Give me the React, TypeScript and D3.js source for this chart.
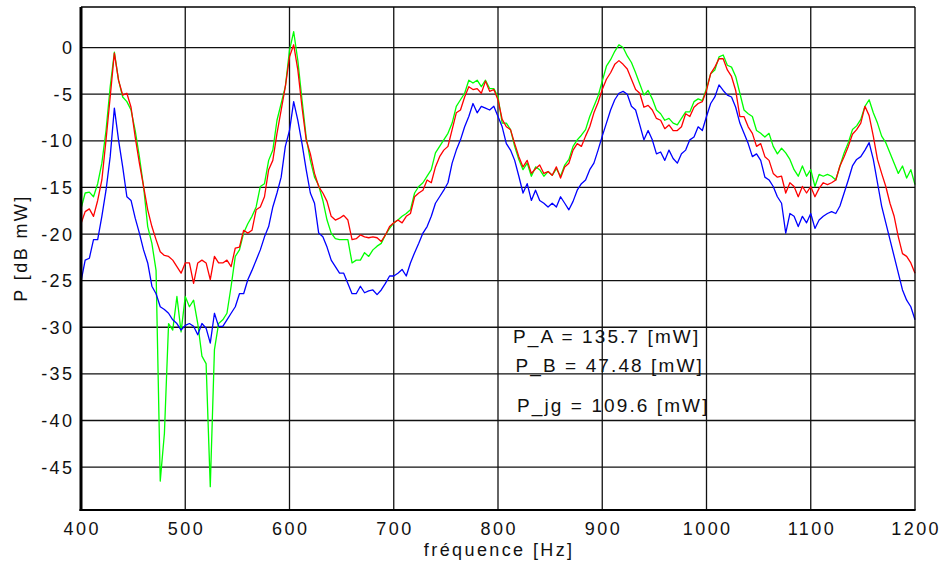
import React from "react";
import * as d3 from "d3";

// frequency axis: 400..1200 Hz, step 4 Hz
const FREQ_START = 400;
const FREQ_STEP = 4;

const redValues: number[] = [
  -18.9, -17.6, -17.3, -18.1, -16.4, -14.2, -9.9, -5.3, -0.6,
  -3.5, -5.1, -4.9, -6.4, -9.6, -12.4, -14.9, -17.4, -19.2, -20.6,
  -21.9, -22.3, -22.4, -22.8, -23.5, -24.2, -23.1, -23.1, -25.3, -23.1, -22.8, -23.1, -24.9, -22.4, -23.1,
  -23.1, -22.8, -23.5, -21.5, -21.4, -19.6, -19.9, -19.6, -17.4, -17.1, -16.0, -13.1, -12.1, -9.2, -6.7, -4.2, -1.0, 0.3, -2.4, -6.4, -9.9, -11.4, -13.5, -14.9, -15.6, -16.5, -18.1, -18.5, -18.3, -18.0, -18.5, -20.6, -20.5,
  -20.1, -20.3, -20.4, -20.3, -20.4, -20.8, -20.1, -19.2, -18.8, -18.5, -18.8, -18.1, -17.8, -16.0, -15.6, -15.3, -14.2, -14.5, -12.8, -11.7, -11.0, -10.6, -8.8, -7.0, -6.7, -5.3, -4.2, -4.5, -4.4, -4.9, -3.6, -4.7, -4.5, -5.6,
  -7.7, -8.5, -8.8, -10.3, -11.7, -12.8, -12.1, -13.5, -13.0, -12.6, -13.5, -13.3, -13.7, -12.8, -14.0, -12.8, -12.4, -11.0, -10.3, -10.6, -9.5, -8.5, -7.0, -5.9, -4.5, -3.4, -2.7, -1.8, -1.4, -1.8, -2.3, -3.4, -4.5,
  -4.9, -6.4, -6.2, -6.7, -7.6, -7.8, -8.7, -8.3, -8.9, -8.9, -8.5, -7.1, -7.4, -6.4, -6.0, -5.8, -4.6, -2.8, -2.1, -1.2, -1.2, -2.4, -3.1, -4.6, -7.4, -7.4, -8.5, -9.2, -10.6, -10.3, -11.7, -12.1, -13.5, -13.9,
  -13.8, -15.6, -14.5, -14.9, -16.0, -14.9, -15.6, -14.9, -16.0, -15.1, -14.5, -14.7, -14.5, -14.2, -12.7, -11.7, -10.6, -9.3, -8.8, -8.1, -6.3, -7.3, -9.5, -12.0, -13.5, -14.9, -16.7, -18.1, -20.3, -22.1, -22.4, -23.1, -24.2,
];

const greenValues: number[] = [
  -17.3, -15.6, -15.5, -16.0, -14.6, -12.4, -8.9, -4.2, -0.5,
  -3.5, -5.3, -5.8, -6.7, -8.9, -11.7, -14.9, -19.2, -21.0, -23.9,
  -46.5, -41.4, -29.6, -30.3, -26.7, -30.5, -26.7, -27.8, -27.1, -29.6, -33.1, -33.9, -47.1, -32.4, -29.6,
  -29.2, -28.5, -25.6, -22.4, -21.7, -19.9, -18.9, -18.1, -17.1, -14.9, -14.6, -12.1, -11.0, -7.8, -6.0, -4.2, -0.3, 1.7, -1.4, -5.6, -9.6, -12.1, -13.9, -14.8, -16.4, -18.5, -19.9, -20.5, -20.6, -20.6, -20.6, -23.1, -22.8,
  -22.8, -22.0, -22.4, -21.7, -21.3, -21.0, -20.1, -19.4, -18.8, -18.5, -18.1, -17.8, -17.4, -15.6, -14.9, -14.5, -13.8, -13.1, -11.3, -10.6, -9.9, -9.2, -8.1, -6.3, -5.6, -4.9, -3.5, -3.8, -3.5, -4.2, -3.5, -4.4, -4.4, -5.3,
  -8.1, -8.1, -8.8, -10.6, -12.0, -13.1, -12.4, -13.8, -12.8, -13.1, -13.8, -13.3, -13.7, -13.0, -13.8, -12.6, -12.0, -10.6, -9.9, -9.4, -8.8, -7.4, -6.3, -5.2, -3.6, -2.0, -1.3, -0.4, 0.3, 0.0, -0.9, -1.6, -2.7,
  -3.9, -5.1, -4.6, -5.5, -6.7, -7.1, -7.8, -7.6, -8.1, -8.3, -7.6, -6.9, -6.9, -5.8, -5.5, -5.7, -4.4, -2.8, -2.4, -1.0, -0.8, -1.9, -2.1, -3.1, -4.9, -6.7, -7.1, -7.4, -8.9, -9.2, -9.6, -9.2, -10.6, -11.4,
  -10.8, -11.3, -12.0, -13.1, -13.8, -12.7, -13.8, -13.1, -14.9, -13.6, -13.8, -13.6, -13.8, -14.2, -12.7, -11.3, -10.2, -8.8, -8.4, -7.7, -6.3, -5.6, -7.0, -8.1, -9.5, -10.2, -11.3, -12.4, -13.5, -12.7, -14.0, -13.1, -14.7,
];

const blueValues: number[] = [
  -25.1, -22.8, -22.6, -20.6, -20.6, -18.1, -15.3, -11.7, -6.5,
  -9.9, -12.8, -16.0, -16.4, -18.3, -19.9, -21.7, -23.1, -25.6, -26.4,
  -27.8, -28.1, -28.5, -29.2, -29.6, -30.3, -29.8, -29.6, -29.9, -30.8, -29.6, -30.1, -31.7, -28.5, -29.9,
  -29.9, -29.2, -28.5, -27.8, -26.4, -26.4, -24.9, -23.9, -22.8, -21.7, -20.3, -19.2, -17.1, -15.6, -13.9, -10.6, -8.9, -5.8, -7.8, -10.3, -13.1, -15.6, -16.7, -19.9, -20.3, -21.4, -22.8, -23.5, -24.2, -24.2, -25.3, -26.4, -26.4,
  -25.6, -26.3, -26.1, -26.0, -26.5, -26.0, -25.3, -24.5, -24.5, -24.2, -23.8, -24.5, -23.1, -22.0, -21.0, -19.9, -19.2, -18.1, -16.7, -16.0, -15.3, -14.5, -12.4, -11.0, -9.9, -8.5, -7.4, -6.0, -7.0, -6.3, -6.5, -6.7, -6.3, -7.4,
  -8.5, -10.3, -11.0, -12.1, -13.8, -15.6, -14.6, -16.4, -15.3, -16.4, -16.7, -17.1, -16.7, -17.1, -16.0, -16.7, -17.4, -16.5, -15.3, -14.6, -14.2, -13.1, -12.4, -11.0, -9.5, -8.1, -6.7, -5.6, -4.9, -4.7, -5.0, -6.3, -6.7,
  -8.3, -9.9, -8.9, -9.9, -11.4, -11.2, -12.1, -11.0, -11.9, -12.4, -11.4, -11.0, -9.9, -9.6, -8.5, -8.9, -7.4, -6.0, -5.3, -4.0, -4.6, -5.1, -5.3, -6.4, -8.1, -9.2, -10.3, -11.7, -11.4, -12.1, -13.9, -14.2, -14.9, -16.0,
  -16.7, -19.9, -17.8, -18.1, -19.2, -18.1, -18.8, -17.8, -19.4, -18.5, -18.1, -17.8, -17.6, -17.8, -17.0, -15.6, -14.2, -12.7, -12.0, -11.7, -11.0, -10.2, -12.0, -14.5, -17.0, -18.8, -20.6, -22.4, -24.2, -26.0, -27.1, -27.8, -29.2,
];

const xTicks: number[] = [400, 500, 600, 700, 800, 900, 1000, 1100, 1200];
const yTicks: number[] = [0, -5, -10, -15, -20, -25, -30, -35, -40, -45];
const annotations: string[] = [
  "P_A = 135.7 [mW]",
  "P_B = 47.48 [mW]",
  "P_jg = 109.6 [mW]",
];

const W = 943;
const H = 569;
const L = 81;
const R = 915;
const T = 7;
const B = 510;
const FONT = "'Liberation Sans', Arial, Helvetica, sans-serif";
const LS = 2.4;

export default function App() {
  const x = d3.scaleLinear().domain([400, 1200]).range([L, R]);
  const y = d3.scaleLinear().domain([-49.6, 4.35]).range([B, T]);
  const line = d3
    .line<number>()
    .x((_, i) => x(FREQ_START + i * FREQ_STEP))
    .y((d) => y(d));

  const series = [
    { values: greenValues, color: "#00ff00" },
    { values: blueValues, color: "#0000ff" },
    { values: redValues, color: "#ff0000" },
  ];

  const annPos = [
    { x: 513, y: 343 },
    { x: 515.5, y: 371.5 },
    { x: 517, y: 411.5 },
  ];

  return (
    <svg
      width={W}
      height={H}
      style={{ position: "absolute", left: 0, top: 0, background: "#fff" }}
      fontFamily={FONT}
    >
      <rect x={0} y={0} width={W} height={H} fill="#fff" />
      {/* grid */}
      {xTicks.slice(1, -1).map((t) => (
        <line key={"gx" + t} x1={x(t)} x2={x(t)} y1={T} y2={B} stroke="#111" strokeWidth={1.3} />
      ))}
      {yTicks.map((t) => (
        <line key={"gy" + t} x1={L} x2={R} y1={y(t)} y2={y(t)} stroke="#111" strokeWidth={1.3} />
      ))}
      {/* series */}
      {series.map((s, i) => (
        <path
          key={i}
          d={line(s.values) || ""}
          fill="none"
          stroke={s.color}
          strokeWidth={1.3}
          strokeLinejoin="round"
        />
      ))}
      {/* frame */}
      <line x1={L} x2={R} y1={T} y2={T} stroke="#000" strokeWidth={1.3} />
      <line x1={R} x2={R} y1={T} y2={B} stroke="#000" strokeWidth={1.3} />
      <line x1={L} x2={L} y1={T} y2={B + 1} stroke="#000" strokeWidth={3} />
      <line x1={L - 1.5} x2={R + 0.6} y1={B} y2={B} stroke="#000" strokeWidth={2.2} />
      {/* tick labels */}
      {yTicks.map((t) => (
        <text
          key={"ty" + t}
          x={72 + LS}
          y={y(t) + 6.5}
          textAnchor="end"
          fontSize={18}
          letterSpacing={LS}
          fill="#111"
        >
          {t}
        </text>
      ))}
      {xTicks.map((t) => (
        <text
          key={"tx" + t}
          x={x(t) + LS / 2}
          y={535}
          textAnchor="middle"
          fontSize={18}
          letterSpacing={LS}
          fill="#111"
        >
          {t}
        </text>
      ))}
      {/* axis labels */}
      <text
        x={(L + R) / 2 + LS / 2}
        y={556}
        textAnchor="middle"
        fontSize={18}
        letterSpacing={LS}
        fill="#111"
      >
        fréquence [Hz]
      </text>
      <text
        transform={`translate(27, ${248}) rotate(-90)`}
        textAnchor="middle"
        fontSize={18}
        letterSpacing={LS}
        fill="#111"
      >
        P [dB mW]
      </text>
      {/* annotations */}
      {annotations.map((a, i) => (
        <text
          key={"a" + i}
          x={annPos[i].x}
          y={annPos[i].y}
          fontSize={19}
          letterSpacing={2.1}
          fill="#111"
        >
          {a}
        </text>
      ))}
    </svg>
  );
}
